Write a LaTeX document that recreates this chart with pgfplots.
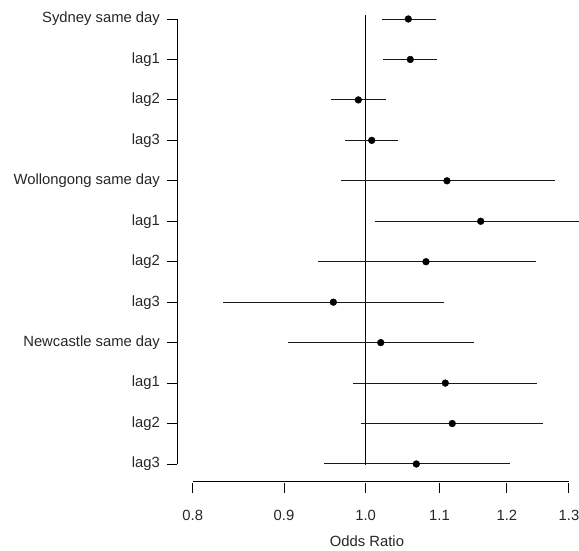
\documentclass[border=0pt]{standalone}
\usepackage{fontspec}
\setmainfont{Liberation Sans}
\usepackage{pgfplots}
\usepackage{pgfplotstable}
\pgfplotsset{compat=1.18}

% Odds ratios (point estimate) by city and lag; row 12 is at the top
\pgfplotstableread{
row est
12 1.0566
11 1.0593
10 0.9906
9  1.0079
8  1.1107
7  1.1601
6  1.0810
5  0.9592
4  1.0197
3  1.1083
2  1.1183
1  1.0676
}\ordata

\begin{document}
\begin{tikzpicture}
\useasboundingbox (-177pt,-68pt) rectangle (402pt,483pt);
\begin{axis}[
  width=402pt, height=483pt, scale only axis,
  at={(0,0)}, anchor=south west,
  xmode=log, xmin=0.784, xmax=1.317,
  ymin=0.53, ymax=12.47,
  axis line style={draw=none},
  clip=false,
  xtick={0.8,0.9,1.0,1.1,1.2,1.3},
  xticklabels={0.8,0.9,1.0,1.1,1.2,1.3},
  minor xtick={},
  ytick={1,2,3,4,5,6,7,8,9,10,11,12},
  yticklabels={lag3,lag2,lag1,Newcastle same day,lag3,lag2,lag1,Wollongong same day,lag3,lag2,lag1,Sydney same day},
  xtick pos=bottom, ytick pos=left,
  tick align=outside,
  major tick length=10pt,
  tick style={black, line width=0.9pt},
  /pgf/number format/assume math mode=true,
  tick label style={font=\fontsize{14.8}{17}\selectfont, text=black!85},
  xticklabel style={anchor=north, inner sep=0pt, yshift=-17pt},
  yticklabel style={anchor=east, inner sep=0pt, xshift=-7pt},
  xlabel={Odds Ratio},
  xlabel style={at={(rel axis cs:0.4726,0)}, anchor=north, inner sep=0pt, yshift=-53pt,
    font=\fontsize{14.8}{17}\selectfont, text=black!85},
]
% axis lines spanning only the data range
\draw[black, line width=0.9pt] (axis cs:0.8,0.56) -- (axis cs:1.3,0.56);
\draw[black, line width=0.9pt] (axis cs:0.784,1) -- (axis cs:0.784,12);
% reference line at OR = 1
\draw[black, line width=1pt] (axis cs:1,0.975) -- (axis cs:1,12.1);
% 95% confidence intervals
\addplot[black!90, line width=1pt, unbounded coords=jump] coordinates {
  (1.0218,12) (1.0946,12) (nan,nan)
  (1.0231,11) (1.0960,11) (nan,nan)
  (0.9567,10) (1.0262,10) (nan,nan)
  (0.9738,9)  (1.0431,9)  (nan,nan)
  (0.9687,8)  (1.2763,8)  (nan,nan)
  (1.0118,7)  (1.3170,7)  (nan,nan)
  (0.9401,6)  (1.2454,6)  (nan,nan)
  (0.8319,5)  (1.1060,5)  (nan,nan)
  (0.9047,4)  (1.1496,4)  (nan,nan)
  (0.9842,3)  (1.2479,3)  (nan,nan)
  (0.9941,2)  (1.2572,2)  (nan,nan)
  (0.9481,1)  (1.2043,1)
};
% point estimates
\addplot[only marks, mark=*, mark size=3.4pt, black] table[x=est, y=row] {\ordata};
\end{axis}
\end{tikzpicture}
\end{document}
